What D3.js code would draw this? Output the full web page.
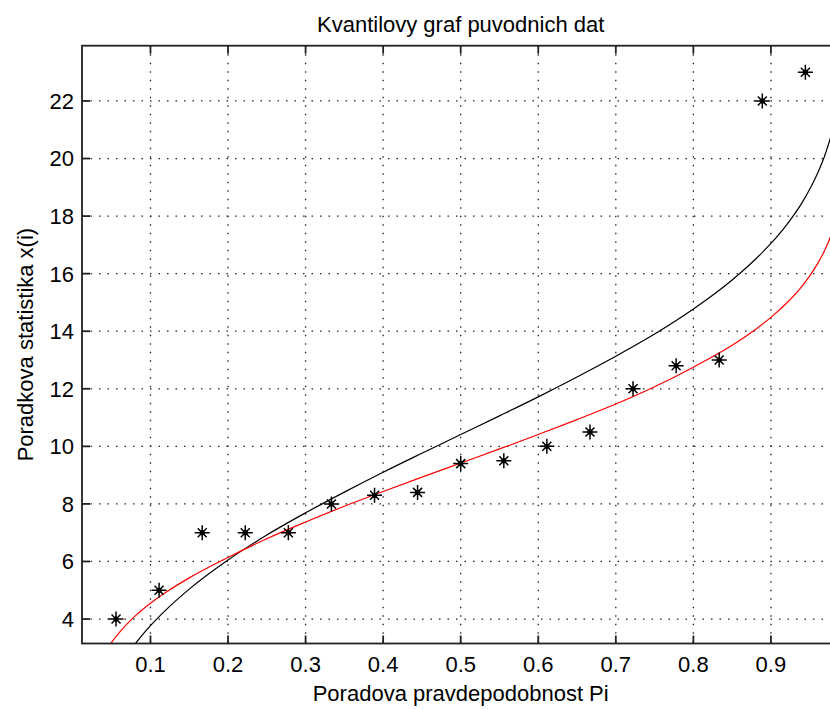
<!DOCTYPE html>
<html>
<head>
<meta charset="utf-8">
<script src="https://cdn.jsdelivr.net/npm/d3@7"></script>
<style>
  body { margin: 0; background: #fff; }
  text { font-family: "Liberation Sans", Arial, sans-serif; fill: #000; }
</style>
</head>
<body>
<div id="chart"></div>
<script>
// Order statistics (stars)
var pointP = [0.0556, 0.1111, 0.1667, 0.2222, 0.2778, 0.3333, 0.3889, 0.4444, 0.5,
              0.5556, 0.6111, 0.6667, 0.7222, 0.7778, 0.8333, 0.8889, 0.9444];
var pointX = [4, 5, 7, 7, 7, 8, 8.3, 8.4, 9.4, 9.5, 10, 10.5, 12, 12.8, 13, 22, 23];

// Theoretical quantile curves
var curveP = [0.04, 0.05, 0.06, 0.08, 0.10, 0.12, 0.15, 0.20, 0.25, 0.30, 0.35, 0.40, 0.45, 0.50,
              0.55, 0.60, 0.65, 0.70, 0.75, 0.80, 0.85, 0.88, 0.90, 0.92, 0.94, 0.95, 0.96, 0.97, 0.98, 0.99];
var blackQ = [1.34, 1.89, 2.36, 3.13, 3.77, 4.32, 5.04, 6.05, 6.92, 7.69, 8.41, 9.10, 9.76, 10.41,
              11.06, 11.72, 12.41, 13.13, 13.90, 14.77, 15.78, 16.50, 17.05, 17.69, 18.46, 18.93, 19.48, 20.15, 21.05, 22.46];
var redQ = [2.80, 3.20, 3.54, 4.10, 4.55, 4.93, 5.43, 6.14, 6.79, 7.37, 7.92, 8.43, 8.93, 9.42,
            9.91, 10.41, 10.93, 11.47, 12.07, 12.75, 13.51, 14.06, 14.48, 14.97, 15.56, 15.92, 16.34, 16.85, 17.53, 18.61];

var xTicks = [0.1, 0.2, 0.3, 0.4, 0.5, 0.6, 0.7, 0.8, 0.9];
var yTicks = [4, 6, 8, 10, 12, 14, 16, 18, 20, 22];

var W = 830, H = 709;
var box = { left: 82, right: 839.4, top: 45.7, bottom: 643.5 };

var svg = d3.select("#chart").append("svg")
    .attr("width", W)
    .attr("height", H);

var x = d3.scaleLinear().domain([0.0117, 0.9883]).range([box.left, box.right]);
var y = d3.scaleLinear().domain([3.15, 23.92]).range([box.bottom, box.top]);

svg.append("defs").append("clipPath")
    .attr("id", "clip")
    .append("rect")
    .attr("x", box.left).attr("y", box.top)
    .attr("width", box.right - box.left).attr("height", box.bottom - box.top);

// dotted grid
var grid = svg.append("g")
    .attr("stroke", "#222")
    .attr("stroke-width", 1.3)
    .attr("stroke-dasharray", "1.5,7");
grid.selectAll(".gx").data(xTicks).enter().append("line")
    .attr("x1", d => x(d)).attr("x2", d => x(d))
    .attr("y1", box.top).attr("y2", box.bottom);
grid.selectAll(".gy").data(yTicks).enter().append("line")
    .attr("x1", box.left).attr("x2", box.right)
    .attr("y1", d => y(d)).attr("y2", d => y(d));

function makeLine(vals) {
    return d3.line()
        .x(function (d, i) { return x(curveP[i]); })
        .y(function (d) { return y(d); })
        .curve(d3.curveMonotoneX)(vals);
}

var plot = svg.append("g").attr("clip-path", "url(#clip)");
plot.append("path")
    .attr("d", makeLine(blackQ))
    .attr("fill", "none").attr("stroke", "#000").attr("stroke-width", 1.2);
plot.append("path")
    .attr("d", makeLine(redQ))
    .attr("fill", "none").attr("stroke", "#ff0000").attr("stroke-width", 1.2);

// star markers
var star = "M-7.5,0H7.5M0,-7.5V7.5M-4.5,-4.5L4.5,4.5M-4.5,4.5L4.5,-4.5";
var pts = svg.append("g").selectAll("g").data(pointX).enter().append("g")
    .attr("transform", (d, i) => "translate(" + x(pointP[i]) + "," + y(d) + ")");
pts.append("path").attr("d", star).attr("stroke", "#000").attr("stroke-width", 1.5);
pts.append("circle").attr("r", 2.6).attr("fill", "#000");

// axes box and inward ticks
var ax = svg.append("g").attr("stroke", "#222").attr("stroke-width", 1.8);
ax.append("rect")
    .attr("x", box.left).attr("y", box.top)
    .attr("width", box.right - box.left).attr("height", box.bottom - box.top)
    .attr("fill", "none");
var tl = 8;
xTicks.forEach(function (t) {
    ax.append("line").attr("x1", x(t)).attr("x2", x(t)).attr("y1", box.bottom).attr("y2", box.bottom - tl);
    ax.append("line").attr("x1", x(t)).attr("x2", x(t)).attr("y1", box.top).attr("y2", box.top + tl);
});
yTicks.forEach(function (t) {
    ax.append("line").attr("x1", box.left).attr("x2", box.left + tl).attr("y1", y(t)).attr("y2", y(t));
    ax.append("line").attr("x1", box.right).attr("x2", box.right - tl).attr("y1", y(t)).attr("y2", y(t));
});

// tick labels
svg.append("g").selectAll("text").data(xTicks).enter().append("text")
    .attr("x", d => x(d)).attr("y", 672)
    .attr("text-anchor", "middle")
    .attr("font-size", 22)
    .text(d => d);
svg.append("g").selectAll("text").data(yTicks).enter().append("text")
    .attr("x", 74).attr("y", d => y(d))
    .attr("dy", "0.36em")
    .attr("text-anchor", "end")
    .attr("font-size", 22)
    .text(d => d);

// titles
svg.append("text")
    .attr("x", (box.left + box.right) / 2).attr("y", 31.5)
    .attr("text-anchor", "middle").attr("font-size", 22)
    .text("Kvantilovy graf puvodnich dat");
svg.append("text")
    .attr("x", (box.left + box.right) / 2).attr("y", 701)
    .attr("text-anchor", "middle").attr("font-size", 22)
    .text("Poradova pravdepodobnost Pi");
svg.append("text")
    .attr("transform", "translate(33," + ((box.top + box.bottom) / 2) + ") rotate(-90)")
    .attr("text-anchor", "middle").attr("font-size", 22)
    .text("Poradkova statistika x(i)");
</script>
</body>
</html>
